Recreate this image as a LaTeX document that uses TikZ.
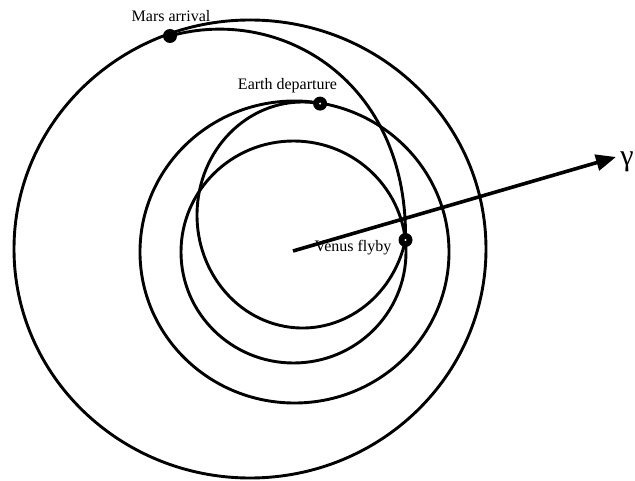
\documentclass[tikz,border=0pt]{standalone}
\usepackage{fontspec}
\setmainfont{Liberation Serif}
\usetikzlibrary{arrows.meta}
\begin{document}
\begin{tikzpicture}[x=1pt,y=1pt,
  orbit/.style={line width=2.9pt},
  body/.style={circle,fill=black,minimum size=14pt,inner sep=0pt},
  lbl/.style={font=\fontsize{16}{18}\selectfont,inner sep=0pt,anchor=base},
  vec/.style={line width=3.6pt,-{Triangle[length=20pt,width=16pt]}}]
\useasboundingbox (0,0) rectangle (635,480);
% planet bodies (positions)
\coordinate (mpos) at (170,444);
\coordinate (epos) at (320.1,376.4);
\coordinate (vpos) at (405.5,240);
% orbits
\draw[orbit] (250,231) ellipse [x radius=236,y radius=229];
\draw[orbit] (294.5,228) ellipse [x radius=154.5,y radius=151];
\draw[orbit] (293.5,228) ellipse [x radius=112.5,y radius=111];
% trajectory legs
\draw[orbit] (epos) arc[start angle=80.4,end angle=347.2,x radius=105.5,y radius=113];
\draw[orbit] (vpos) .. controls (408,400) and (280,475) .. (mpos);
% vernal equinox direction
\coordinate (sun) at (293,229);
\coordinate (gtip) at (616,323);
\draw[vec] (sun) -- (gtip);
\node[font=\fontsize{30}{32}\selectfont,inner sep=0pt] (gamma) at (627,318) {γ};
% bodies
\node[body] (mars) at (mpos) {};
\node[body] (earth) at (epos) {};
\node[body] (venus) at (vpos) {};
\fill[white] (earth.center) circle[radius=1.1];
\fill[white] (venus.center) circle[radius=1.1];
% labels
\node[lbl] (lmars) at (171,458) {Mars arrival};
\node[lbl] (learth) at (287.5,390) {Earth departure};
\node[lbl] (lvenus) at (353,228) {Venus flyby};
\end{tikzpicture}
\end{document}
